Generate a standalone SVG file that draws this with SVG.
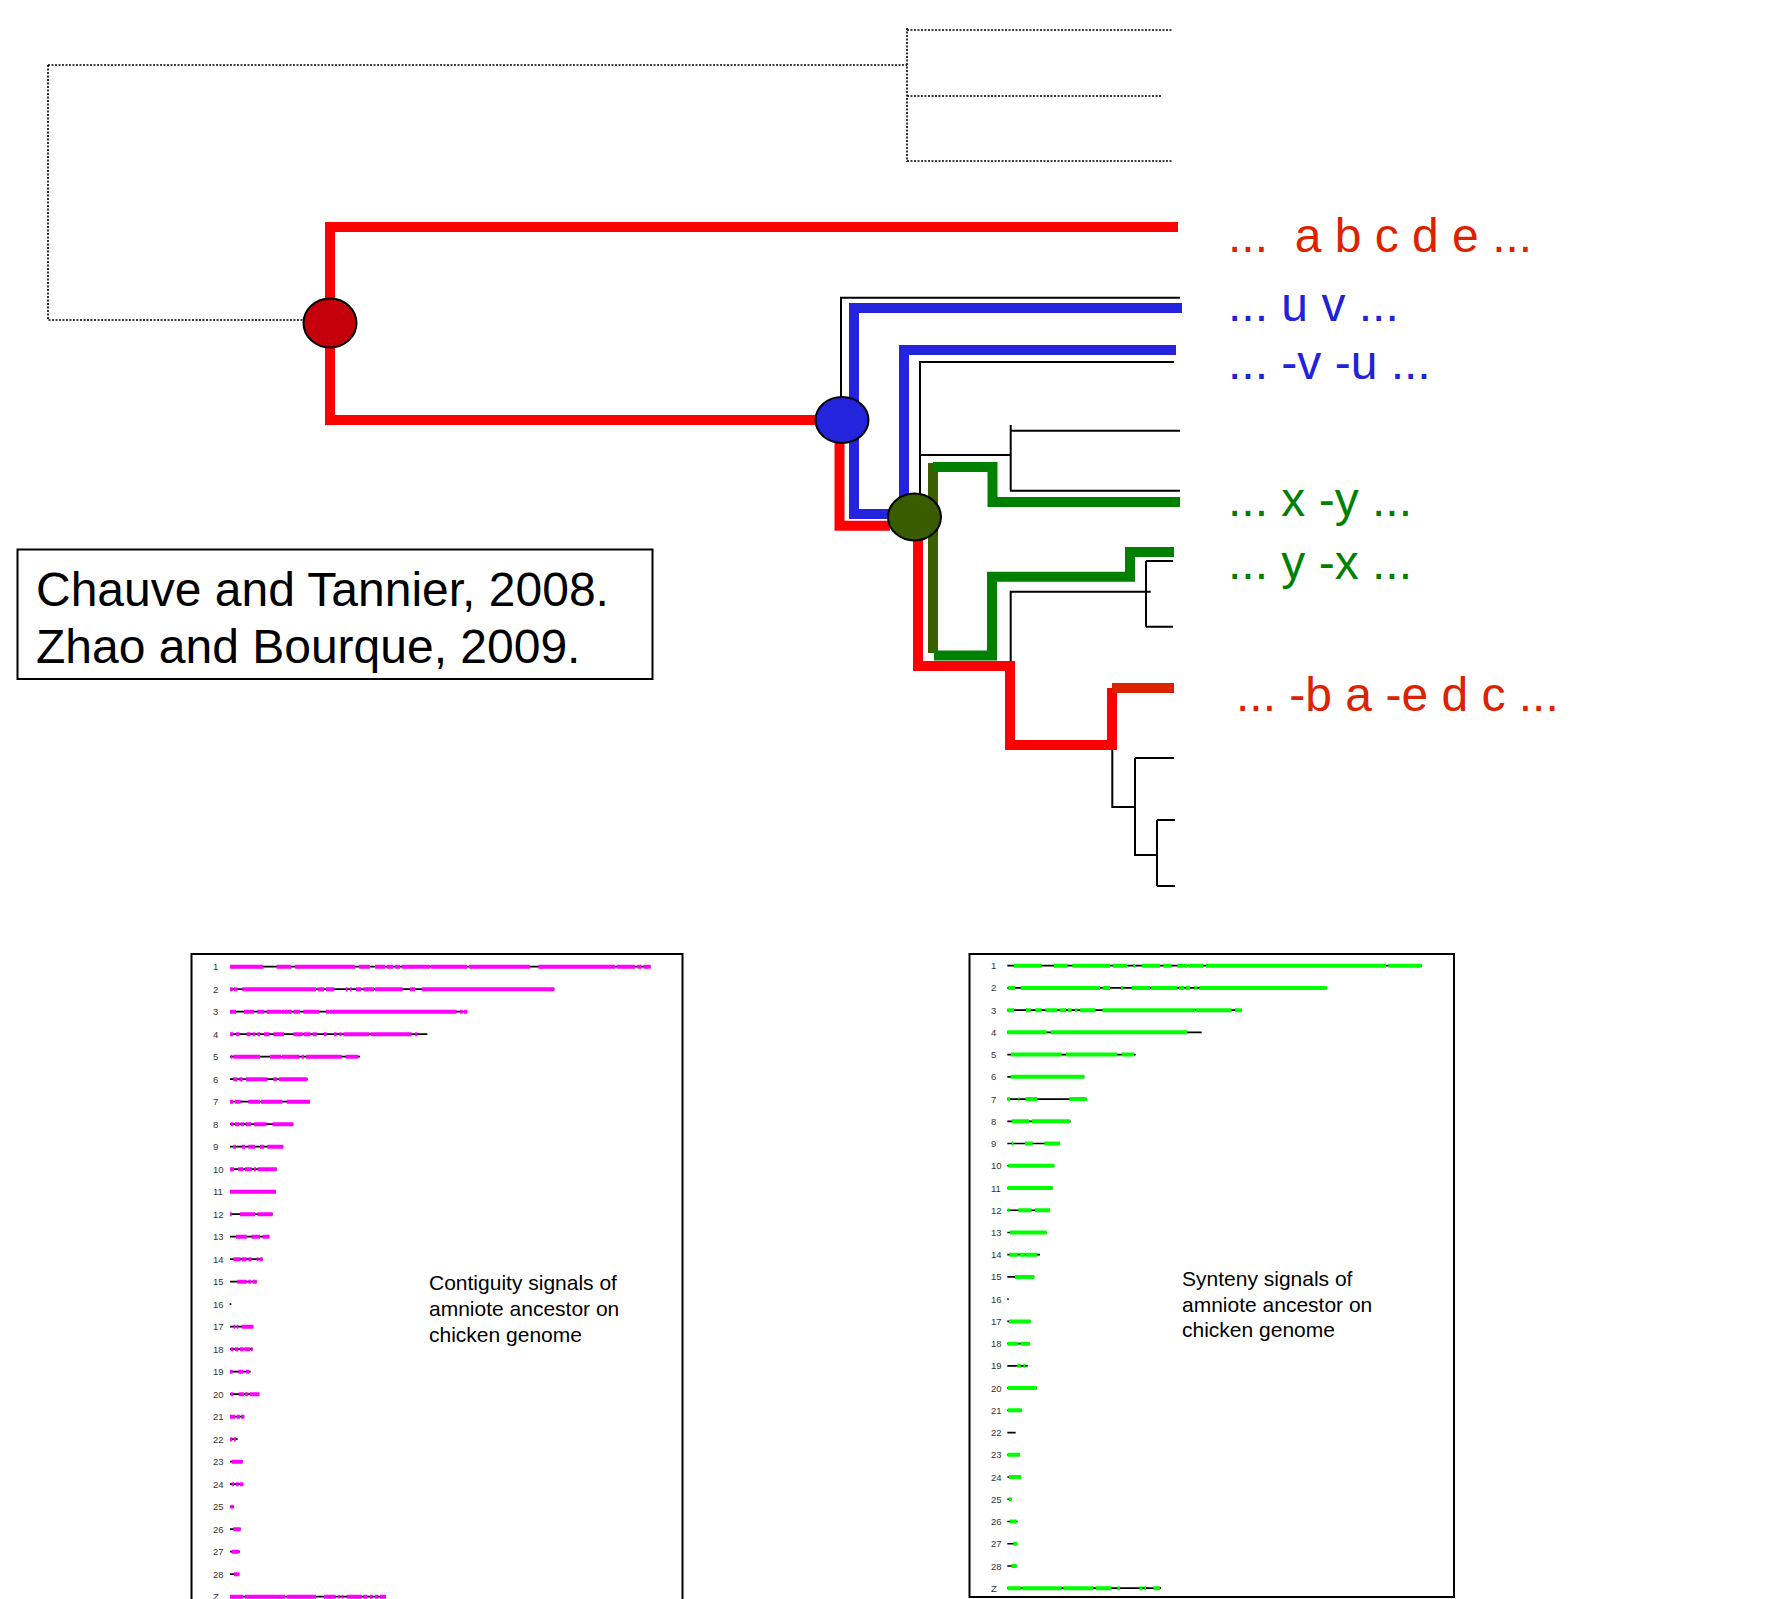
<svg xmlns="http://www.w3.org/2000/svg" width="1785" height="1599" viewBox="0 0 1785 1599">
<style>
.dot{fill:none;stroke:#000;stroke-width:1.6;stroke-dasharray:2 1.5}
.thin{fill:none;stroke:#000;stroke-width:2}
.red{fill:none;stroke:#ff0000;stroke-width:10}
.blue{fill:none;stroke:#2424dc;stroke-width:10}
.grn{fill:none;stroke:#008000;stroke-width:10}
.olive{fill:none;stroke:#3a5e00;stroke-width:10}
.lbl{font-family:"Liberation Sans",Arial,sans-serif;font-size:48px;white-space:pre}
.cite{font-family:"Liberation Sans",Arial,sans-serif;font-size:48px;fill:#000}
.cap{font-family:"Liberation Sans",Arial,sans-serif;font-size:21px;fill:#000}
.num{font-family:"Liberation Sans",Arial,sans-serif;font-size:9.5px;fill:#333}
.chrk{fill:none;stroke:#000;stroke-width:5}
.mag{fill:none;stroke:#ff00ff;stroke-width:12}
.lime{fill:none;stroke:#00ff00;stroke-width:12}
.node{stroke:#000;stroke-width:2}
</style>
<rect width="1785" height="1599" fill="#fff"/>
<g id="connectors">
  <path class="dot" d="M48 65V320H305M48 65H907M907 28V162M907 30H1173M907 96H1162M907 161H1173"/>
  <path class="thin" d="M841 397V297.7H1180M920 494V362H1174M920 455H1010M1010.7 425V490.7M1010 430.7H1180M1010 490.7H1180M1010.7 590.7V665M1010.7 591.7H1150.7M1146 561V626.7M1146 561H1173M1146 626.7H1173M1112.3 745V807H1135M1135 758V856M1135 758H1174M1135 855H1157M1157 820V886M1157 820H1175M1157 886H1175"/>
  <path class="blue" d="M1182 308H854V514H890M904 500V350H1176"/>
  <path class="red" d="M330 300V227H1178M330 346V420H816M839.5 442V525.7H890M918 540V666H1010V745H1112V688"/>
  <path class="red" style="stroke:#dd2200" d="M1112 688H1174"/>
  <path class="olive" d="M933 463V653"/>
  <path class="grn" d="M933 467H992.5V502H1180M934 655.5H992V576.7H1130V552H1174"/>
</g>
<g id="node-root"><ellipse class="node" cx="330" cy="323" rx="26.5" ry="24.5" fill="#c4000c"/></g>
<g id="node-blue"><ellipse class="node" cx="842" cy="420" rx="26.5" ry="23" fill="#2424dc"/></g>
<g id="node-green"><ellipse class="node" cx="914.5" cy="517" rx="26.5" ry="23.5" fill="#3a5c00"/></g>
<g id="labels">
  <text class="lbl" x="1228" y="252" fill="#dd2200" xml:space="preserve">...  a b c d e ...</text>
  <text class="lbl" x="1228" y="321" fill="#2222dd">... u v ...</text>
  <text class="lbl" x="1228" y="379" fill="#2222dd">... -v -u ...</text>
  <text class="lbl" x="1228" y="516" fill="#008000">... x -y ...</text>
  <text class="lbl" x="1228" y="579" fill="#008000">... y -x ...</text>
  <text class="lbl" x="1236" y="711" fill="#dd2200">... -b a -e d c ...</text>
</g>
<g id="citation">
  <rect x="17.5" y="549.5" width="635" height="129.5" fill="#fff" stroke="#000" stroke-width="2"/>
  <text class="cite" x="36" y="606">Chauve and Tannier, 2008.</text>
  <text class="cite" x="36" y="663">Zhao and Bourque, 2009.</text>
</g>
<g id="panel-contiguity">
  <rect x="191.5" y="954" width="491" height="700" fill="none" stroke="#000" stroke-width="2"/>
  <g transform="translate(180 940) scale(0.33333)">
    <path class="chrk" d="M150 80H1412M150 147.5H1123M150 215H862M150 282.5H742M150 350H540M150 417.5H383M150 485H390M150 552.5H340M150 620H310M150 687.5H290M150 755H288M150 822.5H278M150 890H268M150 957.5H248M150 1025H230M149 1092.5H154M150 1160H220M150 1227.5H218M150 1295H212M150 1362.5H238M150 1430H193M150 1497.5H173M150 1565H188M150 1632.5H190M150 1700H162M150 1767.5H182M150 1835H180M150 1902.5H178M150 1970H618"/>
    <path class="mag" d="M150 80H250M290 80H333M345 80H525M537 80H570M585 80H615M620 80H640M645 80H660M665 80H750M752 80H862M867 80H1050M1075 80H1305M1310 80H1365M1372 80H1385M1390 80H1412M150 147.5H158M162 147.5H172M187 147.5H408M413 147.5H432M438 147.5H463M497 147.5H503M510 147.5H515M528 147.5H543M550 147.5H582M585 147.5H668M690 147.5H705M725 147.5H1123M150 215H168M192 215H222M232 215H253M260 215H303M305 215H335M340 215H360M370 215H417M438 215H448M450 215H830M840 215H848M852 215H862M150 282.5H160M168 282.5H178M200 282.5H212M218 282.5H225M232 282.5H240M252 282.5H268M280 282.5H312M340 282.5H368M372 282.5H392M398 282.5H410M432 282.5H440M462 282.5H470M478 282.5H485M490 282.5H568M572 282.5H695M705 282.5H712M152 350H157M160 350H240M270 350H303M306 350H358M365 350H372M378 350H485M497 350H535M160 417.5H172M178 417.5H188M198 417.5H262M280 417.5H290M297 417.5H382M150 485H160M165 485H182M205 485H240M243 485H307M320 485H390M152 552.5H160M165 552.5H178M182 552.5H192M197 552.5H213M222 552.5H260M277 552.5H340M160 620H168M185 620H195M205 620H225M240 620H252M262 620H310M150 687.5H162M175 687.5H190M195 687.5H215M222 687.5H228M233 687.5H290M150 755H288M150 822.5H155M180 822.5H225M232 822.5H278M168 890H200M215 890H240M248 890H268M160 957.5H182M186 957.5H200M205 957.5H215M230 957.5H236M240 957.5H248M172 1025H200M205 1025H213M218 1025H230M160 1160H165M170 1160H175M185 1160H220M152 1227.5H160M165 1227.5H175M180 1227.5H190M193 1227.5H210M212 1227.5H218M150 1295H158M175 1295H190M198 1295H208M152 1362.5H160M176 1362.5H192M195 1362.5H205M210 1362.5H238M150 1430H165M170 1430H180M183 1430H193M150 1497.5H157M162 1497.5H168M155 1565H188M155 1632.5H162M168 1632.5H176M180 1632.5H190M152 1700H160M160 1767.5H182M155 1835H178M162 1902.5H178M150 1970H190M195 1970H315M320 1970H408M432 1970H467M475 1970H480M485 1970H490M500 1970H545M550 1970H562M570 1970H578M585 1970H595M600 1970H618"/>
  </g>
  <g class="num">
    <text x="213" y="970.2">1</text><text x="213" y="992.7">2</text><text x="213" y="1015.2">3</text><text x="213" y="1037.7">4</text><text x="213" y="1060.2">5</text><text x="213" y="1082.7">6</text><text x="213" y="1105.2">7</text><text x="213" y="1127.7">8</text><text x="213" y="1150.2">9</text><text x="213" y="1172.7">10</text><text x="213" y="1195.2">11</text><text x="213" y="1217.7">12</text><text x="213" y="1240.2">13</text><text x="213" y="1262.7">14</text><text x="213" y="1285.2">15</text><text x="213" y="1307.7">16</text><text x="213" y="1330.2">17</text><text x="213" y="1352.7">18</text><text x="213" y="1375.2">19</text><text x="213" y="1397.7">20</text><text x="213" y="1420.2">21</text><text x="213" y="1442.7">22</text><text x="213" y="1465.2">23</text><text x="213" y="1487.7">24</text><text x="213" y="1510.2">25</text><text x="213" y="1532.7">26</text><text x="213" y="1555.2">27</text><text x="213" y="1577.7">28</text><text x="213" y="1600">Z</text>
  </g>
  <text class="cap" x="429" y="1290">Contiguity signals of</text>
  <text class="cap" x="429" y="1316">amniote ancestor on</text>
  <text class="cap" x="429" y="1342">chicken genome</text>
</g>
<g id="panel-synteny">
  <rect x="969.5" y="954" width="484.5" height="643" fill="none" stroke="#000" stroke-width="2"/>
  <g transform="translate(960 940) scale(0.33333)">
    <path class="chrk" d="M142 77H1385M142 143.7H1100M142 210.4H845M142 277.1H725M142 343.8H527M142 410.5H373M142 477.2H380M142 543.9H332M142 610.6H300M142 677.3H283M142 744H278M142 810.7H270M142 877.4H260M142 944.1H240M142 1010.8H223M142 1077.5H146M142 1144.2H212M142 1210.9H210M142 1277.6H203M142 1344.3H230M142 1411H185M142 1477.7H167M142 1544.4H180M142 1611.1H183M142 1677.8H155M142 1744.5H173M142 1811.2H172M142 1877.9H170M142 1944.6H603"/>
    <path class="lime" d="M162 77H243M282 77H323M337 77H450M458 77H501M520 77H525M545 77H600M610 77H635M652 77H682M685 77H730M738 77H1278M1285 77H1385M145 143.7H165M182 143.7H420M428 143.7H450M483 143.7H490M515 143.7H570M573 143.7H652M657 143.7H673M677 143.7H690M703 143.7H712M718 143.7H1100M142 210.4H162M198 210.4H212M226 210.4H245M256 210.4H292M298 210.4H318M324 210.4H335M345 210.4H352M360 210.4H407M427 210.4H705M708 210.4H815M825 210.4H845M142 277.1H260M272 277.1H682M153 343.8H305M318 343.8H472M485 343.8H522M152 410.5H373M142 477.2H150M175 477.2H178M197 477.2H231M328 477.2H380M155 543.9H207M216 543.9H330M155 610.6H160M195 610.6H218M253 610.6H300M145 677.3H283M143 744H278M143 810.7H148M175 810.7H215M225 810.7H270M150 877.4H260M148 944.1H175M178 944.1H195M198 944.1H232M165 1010.8H223M147 1144.2H212M143 1210.9H175M182 1210.9H210M172 1277.6H182M190 1277.6H196M144 1344.3H230M144 1411H185M143 1544.4H180M147 1611.1H183M146 1677.8H155M150 1744.5H170M160 1811.2H172M155 1877.9H170M143 1944.6H183M187 1944.6H305M310 1944.6H400M407 1944.6H455M472 1944.6H480M538 1944.6H548M553 1944.6H558M580 1944.6H600"/>
  </g>
  <g class="num">
    <text x="991" y="969.2">1</text><text x="991" y="991.4">2</text><text x="991" y="1013.6">3</text><text x="991" y="1035.9">4</text><text x="991" y="1058.1">5</text><text x="991" y="1080.3">6</text><text x="991" y="1102.6">7</text><text x="991" y="1124.8">8</text><text x="991" y="1147">9</text><text x="991" y="1169.3">10</text><text x="991" y="1191.5">11</text><text x="991" y="1213.7">12</text><text x="991" y="1236">13</text><text x="991" y="1258.2">14</text><text x="991" y="1280.4">15</text><text x="991" y="1302.7">16</text><text x="991" y="1324.9">17</text><text x="991" y="1347.1">18</text><text x="991" y="1369.4">19</text><text x="991" y="1391.6">20</text><text x="991" y="1413.8">21</text><text x="991" y="1436.1">22</text><text x="991" y="1458.3">23</text><text x="991" y="1480.5">24</text><text x="991" y="1502.8">25</text><text x="991" y="1525">26</text><text x="991" y="1547.2">27</text><text x="991" y="1569.5">28</text><text x="991" y="1591.7">Z</text>
  </g>
  <text class="cap" x="1182" y="1286">Synteny signals of</text>
  <text class="cap" x="1182" y="1312">amniote ancestor on</text>
  <text class="cap" x="1182" y="1337">chicken genome</text>
</g>
</svg>
